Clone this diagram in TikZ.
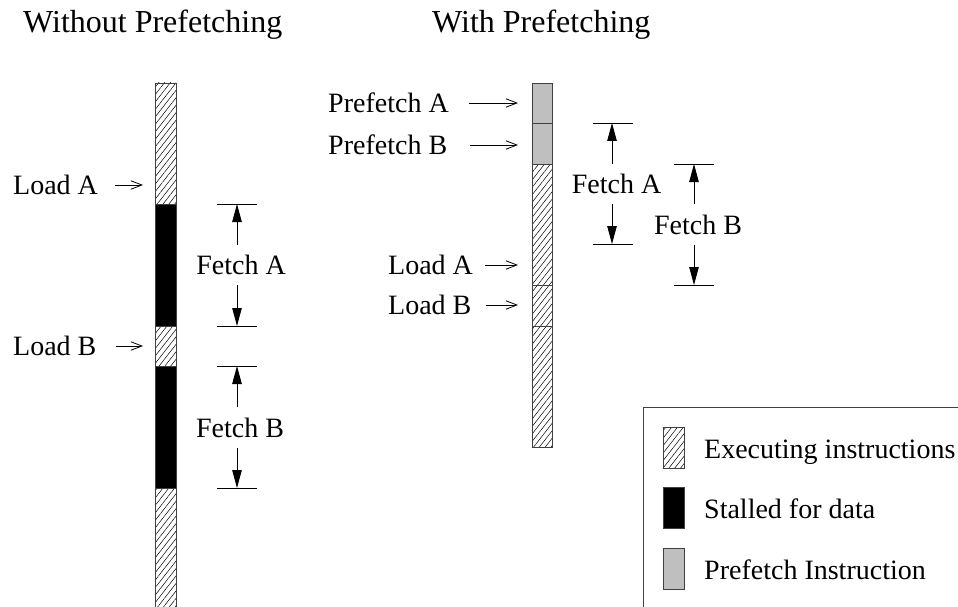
\documentclass[tikz,border=0pt]{standalone}
\usepackage{fontspec}
\setmainfont{Liberation Serif}
\usetikzlibrary{arrows.meta,patterns.meta}

\tikzset{
  seg/.style={draw=black!75, line width=0.9pt},
  exec/.style={seg, pattern={Lines[angle=52,distance=4.6pt,line width=0.5pt]}},
  stall/.style={seg, fill=black},
  pref/.style={seg, fill=black!25},
  lbl/.style={font=\fontsize{28}{34}\selectfont, inner sep=0pt},
  ttl/.style={font=\fontsize{32}{38}\selectfont, inner sep=0pt, anchor=base west},
  ptr/.style={line width=0.8pt, -{Straight Barb[length=11pt,width=8.5pt]}},
  dimarr/.style={line width=0.8pt, -{Triangle[length=18pt,width=9.5pt]}},
  dimline/.style={line width=0.9pt},
  fetch/.style={lbl, text height=19pt, text depth=0pt},
}

\begin{document}
\begin{tikzpicture}[x=1pt,y=-1pt]
\clip (0,0) rectangle (958,607);

% titles
\node[ttl] (t1) at (23,33) {Without Prefetching};
\node[ttl] (t2) at (432,33) {With Prefetching};

% ---------- timeline without prefetching ----------
\path[exec]  (155,83)  rectangle (176,204);
\path[stall] (155,204) rectangle (176,326);
\path[exec]  (155,326) rectangle (176,366);
\path[stall] (155,366) rectangle (176,488);
\path[exec]  (155,488) rectangle (176,630);

\node[lbl, anchor=west] (lA) at (13,185) {Load A};
\coordinate (lAend) at (143,185);
\draw[ptr] ([xshift=17pt]lA.east) -- (lAend);

\node[lbl, anchor=west] (lB) at (13,346) {Load B};
\coordinate (lBend) at (143,346);
\draw[ptr] ([xshift=19pt]lB.east) -- (lBend);

% fetch A span
\coordinate (fAt) at (237,204);
\coordinate (fAb) at (237,326);
\draw[dimline] (217,204) -- (257,204);
\draw[dimline] (217,326) -- (257,326);
\node[fetch] (fA) at (241,265) {Fetch A};
\draw[dimarr] (fA.north -| fAt) ++(0,-10.5) -- (fAt);
\draw[dimarr] (fA.south -| fAb) ++(0,10.5) -- (fAb);

% fetch B span
\coordinate (fBt) at (237,366);
\coordinate (fBb) at (237,488);
\draw[dimline] (217,366) -- (257,366);
\draw[dimline] (217,488) -- (257,488);
\node[fetch] (fB) at (240,427.5) {Fetch B};
\draw[dimarr] (fB.north -| fBt) ++(0,-10.5) -- (fBt);
\draw[dimarr] (fB.south -| fBb) ++(0,10.5) -- (fBb);

% ---------- timeline with prefetching ----------
\path[pref] (532,83)  rectangle (552,123);
\path[pref] (532,123) rectangle (552,164);
\path[exec] (532,164) rectangle (552,285);
\path[exec] (532,285) rectangle (552,326);
\path[exec] (532,326) rectangle (552,447);

\node[lbl, anchor=west] (pA) at (328,103) {Prefetch A};
\coordinate (pAend) at (518,103);
\draw[ptr] ([xshift=20pt]pA.east) -- (pAend);

\node[lbl, anchor=west] (pB) at (328,145) {Prefetch B};
\coordinate (pBend) at (518,145);
\draw[ptr] ([xshift=23pt]pB.east) -- (pBend);

\node[lbl, anchor=west] (rA) at (388,265) {Load A};
\coordinate (rAend) at (518,265);
\draw[ptr] ([xshift=12pt]rA.east) -- (rAend);

\node[lbl, anchor=west] (rB) at (388,305) {Load B};
\coordinate (rBend) at (518,305);
\draw[ptr] ([xshift=14pt]rB.east) -- (rBend);

% fetch A span (prefetched)
\coordinate (gAt) at (612,123);
\coordinate (gAb) at (612,244);
\draw[dimline] (593,123) -- (633,123);
\draw[dimline] (593,244) -- (633,244);
\node[fetch] (gA) at (616.5,184) {Fetch A};
\draw[dimarr] (gA.north -| gAt) ++(0,-10.5) -- (gAt);
\draw[dimarr] (gA.south -| gAb) ++(0,10.5) -- (gAb);

% fetch B span (prefetched)
\coordinate (gBt) at (694,164);
\coordinate (gBb) at (694,285);
\draw[dimline] (674,164) -- (714,164);
\draw[dimline] (674,285) -- (714,285);
\node[fetch] (gB) at (698,224.5) {Fetch B};
\draw[dimarr] (gB.north -| gBt) ++(0,-10.5) -- (gBt);
\draw[dimarr] (gB.south -| gBb) ++(0,10.5) -- (gBb);

% ---------- legend ----------
\draw[seg] (643,407) rectangle (975,625);
\path[exec]  (663,427) rectangle (684,468);
\path[stall] (663,487) rectangle (684,528);
\path[pref]  (663,548) rectangle (684,589);
\node[lbl, anchor=base west] (k1) at (704,458) {Executing instructions};
\node[lbl, anchor=base west] (k2) at (704,518) {Stalled for data};
\node[lbl, anchor=base west] (k3) at (704,579) {Prefetch Instruction};
\end{tikzpicture}
\end{document}
